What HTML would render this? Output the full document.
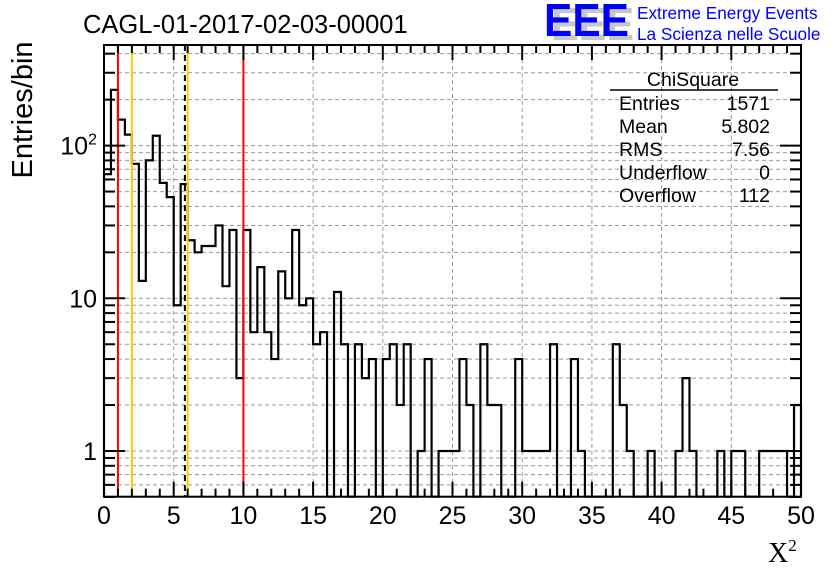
<!DOCTYPE html>
<html><head><meta charset="utf-8"><style>
html,body{margin:0;padding:0;background:#fff;}
svg{display:block;font-family:"Liberation Sans",sans-serif;}
</style></head><body>
<svg id="chart" width="836" height="572" viewBox="0 0 836 572" xmlns="http://www.w3.org/2000/svg">
<rect x="0" y="0" width="836" height="572" fill="#fff"/>
<g id="grid"></g>
<g id="marks"></g>
<g id="vlines"></g>
<g id="axes"></g>
<text x="83" y="33" font-size="25.5">CAGL-01-2017-02-03-00001</text>
<text transform="translate(32,110) rotate(-90)" text-anchor="middle" font-size="29">Entries/bin</text>
<text x="768" y="562" font-family="Liberation Serif,serif" font-size="28">X<tspan dy="-11" font-size="17">2</tspan></text>
<g>
<text x="551" y="40" font-size="46" font-weight="bold" fill="#c8c8c8" textLength="83" lengthAdjust="spacingAndGlyphs">EEE</text>
<text x="544" y="36" font-size="46" font-weight="bold" fill="#0000ff" textLength="85" lengthAdjust="spacingAndGlyphs">EEE</text>
<text x="637" y="19" font-size="17.2" fill="#0000ff">Extreme Energy Events</text>
<text x="637" y="40" font-size="17.2" fill="#0000ff">La Scienza nelle Scuole</text>
</g>
<g font-size="19.5">
<text x="693" y="86" text-anchor="middle">ChiSquare</text>
<line x1="610" y1="90" x2="778" y2="90" stroke="#000" stroke-width="1.5"/>
<text x="619" y="110">Entries</text><text x="770" y="110" text-anchor="end">1571</text>
<text x="619" y="133">Mean</text><text x="770" y="133" text-anchor="end">5.802</text>
<text x="619" y="156">RMS</text><text x="770" y="156" text-anchor="end">7.56</text>
<text x="619" y="179">Underflow</text><text x="770" y="179" text-anchor="end">0</text>
<text x="619" y="202">Overflow</text><text x="770" y="202" text-anchor="end">112</text>
</g>
</svg>
<script>
const binCounts = [65,232,148,118,76,13,80,116,57,46,9,56,24,20,22,22,30,12,28,3,28,6,16,6,4,15,10,28,9,10,5,6,0,11,5,0,5,3,4,0,4,5,2,5,0,1,4,0,1,1,1,4,2,0,5,2,2,0,0,4,1,1,1,1,5,0,0,4,1,0,0,0,0,5,2,1,0,0,1,0,0,0,1,3,1,0,0,0,1,0,1,1,0,0,1,1,1,1,0,2];
const xTickLabels = [0,5,10,15,20,25,30,35,40,45,50];
const yTickLabels = ["1","10","10²"];
const yTickValues = [1,10,100];
const cutLinesRed = [1,10];
const cutLinesYellow = [2,6];
const meanValue = 5.802;

const L=104,R=801,T=45,B=496.7;
const xMin=0,xMax=50,binW=0.5;
const X=v=>L+(v-xMin)/(xMax-xMin)*(R-L);
const Y=v=>451-Math.log10(v)*152.7;
const NS="http://www.w3.org/2000/svg";
function mk(tag,attrs,parent){const e=document.createElementNS(NS,tag);for(const k in attrs)e.setAttribute(k,attrs[k]);parent.appendChild(e);return e;}
const grid=document.getElementById('grid'),marks=document.getElementById('marks'),axes=document.getElementById('axes'),vl=document.getElementById('vlines');

for(let v=5;v<50;v+=5){const g=mk('line',{x1:X(v),x2:X(v),y1:T,y2:B,stroke:'#999','stroke-dasharray':'4,3','stroke-width':1},grid);

}
const yt=[];for(const d of [0.1,1,10,100])for(let m=1;m<10;m++){const v=m*d;if(v>=0.5&&Y(v)>T+1)yt.push(v);}
yt.forEach(v=>{const g=mk('line',{x1:L,x2:R,y1:Y(v),y2:Y(v),stroke:'#999','stroke-dasharray':'4,3','stroke-width':1},grid);


const major=[1,10,100].some(t=>Math.abs(t-v)<1e-9);const len=major?21:11;
mk('line',{x1:L,x2:L+len,y1:Y(v),y2:Y(v),stroke:'#000','stroke-width':2},axes);
mk('line',{x1:R-len,x2:R,y1:Y(v),y2:Y(v),stroke:'#000','stroke-width':2},axes);});

let d='';let prev=null;
binCounts.forEach((c,i)=>{const x0=X(i*binW),x1=X((i+1)*binW);const y=c>0?Y(c):B;
if(prev===null)d+=`M${x0},${B}L${x0},${y}`;else d+=`L${x0},${y}`;d+=`L${x1},${y}`;prev=y;});
d+=`L${X(binCounts.length*binW)},${B}`;
const hp=mk('path',{d:d,fill:'none',stroke:'#000','stroke-width':2.2},marks);



cutLinesRed.forEach(v=>{const e=mk('line',{x1:X(v),x2:X(v),y1:T,y2:B,stroke:'#ff0000','stroke-width':2},vl);

});
cutLinesYellow.forEach(v=>{const e=mk('line',{x1:X(v),x2:X(v),y1:T,y2:B,stroke:'#ffcc00','stroke-width':2},vl);

});
const ml=mk('line',{x1:X(meanValue),x2:X(meanValue),y1:T,y2:B,stroke:'#000','stroke-width':2,'stroke-dasharray':'6,4'},vl);



for(let v=0;v<=50;v+=1){const major=v%5===0;const len=major?15:8;
mk('line',{x1:X(v),x2:X(v),y1:B,y2:B-len,stroke:'#000','stroke-width':2},axes);
mk('line',{x1:X(v),x2:X(v),y1:T,y2:T+len,stroke:'#000','stroke-width':2},axes);}
xTickLabels.forEach(v=>{const t=mk('text',{x:X(v),y:524,'text-anchor':'middle','font-size':25},axes);t.textContent=v;

});
yTickLabels.forEach((s,i)=>{const t=mk('text',{x:97,y:Y(yTickValues[i])+9,'text-anchor':'end','font-size':25},axes);
if(s==="10²"){t.textContent='10';const sp=mk('tspan',{dy:-10,'font-size':16},t);sp.textContent='2';}else t.textContent=s;

});
const fr=mk('rect',{x:L,y:T,width:R-L,height:B-T,fill:'none',stroke:'#000','stroke-width':2},axes);


</script>
</body></html>
